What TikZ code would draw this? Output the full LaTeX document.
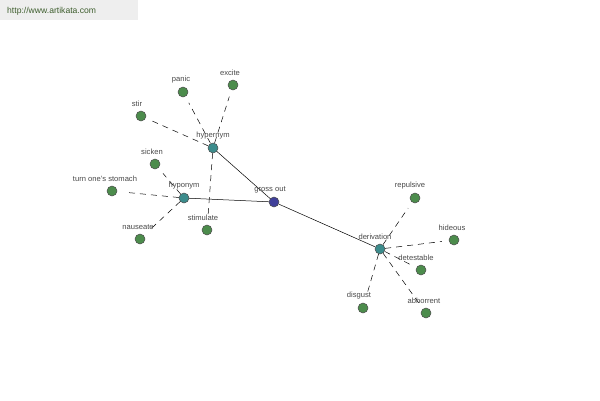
\documentclass[tikz,border=0pt]{standalone}
\usepackage{fontspec}
\setmainfont{Liberation Sans}
\definecolor{leafc}{HTML}{4C8C4C}
\definecolor{relc}{HTML}{3C8C8C}
\definecolor{rootc}{HTML}{40409A}
\definecolor{txtc}{HTML}{484848}
\definecolor{hdrbg}{HTML}{EEEEEE}
\definecolor{hdrtxt}{HTML}{3E5E2E}
\begin{document}
\begin{tikzpicture}[x=1pt,y=-1pt,
  dot/.style={circle,draw=black!70,line width=0.5pt,minimum size=10pt,inner sep=0pt},
  leaf/.style={dot,fill=leafc},
  rel/.style={dot,fill=relc},
  root/.style={dot,fill=rootc},
  lbl/.style={font=\fontsize{7.6}{9}\selectfont,text=txtc,inner sep=0pt},
  solidedge/.style={draw=black,line width=0.5pt},
  dashedge/.style={draw=black,line width=0.5pt,dash pattern=on 6pt off 5pt,shorten >=7pt}]
\useasboundingbox (0,0) rectangle (600,400);
\fill[hdrbg] (0,0) rectangle (138,20);
\node[font=\fontsize{8.6}{10}\selectfont,text=hdrtxt,anchor=west,inner sep=0pt] (hdr) at (7,11) {http://www.artikata.com};
% nodes
\node[root] (go) at (274,202) {};
\node[rel] (hyper) at (213,148) {};
\node[rel] (hypo) at (184,198) {};
\node[rel] (deriv) at (380,249) {};
\node[leaf] (panic) at (183,92) {};
\node[leaf] (excite) at (233,85) {};
\node[leaf] (stir) at (141,116) {};
\node[leaf] (sicken) at (155,164) {};
\node[leaf] (turn) at (112,191) {};
\node[leaf] (nause) at (140,239) {};
\node[leaf] (stim) at (207,230) {};
\node[leaf] (repul) at (415,198) {};
\node[leaf] (hide) at (454,240) {};
\node[leaf] (detest) at (421,270) {};
\node[leaf] (disg) at (363,308) {};
\node[leaf] (abh) at (426,313) {};
% edges
\draw[solidedge] (hyper) -- (go);
\draw[solidedge] (hypo) -- (go);
\draw[solidedge] (go) -- (deriv);
\foreach \t in {panic,excite,stir,stim} \draw[dashedge] (hyper) -- (\t);
\foreach \t in {sicken,turn,nause} \draw[dashedge] (hypo) -- (\t);
\foreach \t in {repul,hide,detest,disg,abh} \draw[dashedge] (deriv) -- (\t);
% labels
\node[lbl] (lgo) at (270,190) {gross out};
\node[lbl] (lhyper) at (213,136) {hypernym};
\node[lbl] (lhypo) at (184,186) {hyponym};
\node[lbl] (lderiv) at (375,237) {derivation};
\node[lbl] (lpanic) at (181,80) {panic};
\node[lbl] (lexcite) at (230,73) {excite};
\node[lbl] (lstir) at (137,104) {stir};
\node[lbl] (lsicken) at (152,152) {sicken};
\node[lbl] (lturn) at (105,179) {turn one's stomach};
\node[lbl] (lnause) at (138,227) {nauseate};
\node[lbl] (lstim) at (203,218) {stimulate};
\node[lbl] (lrepul) at (410,186) {repulsive};
\node[lbl] (lhide) at (452,228) {hideous};
\node[lbl] (ldetest) at (416,258) {detestable};
\node[lbl] (ldisg) at (359,296) {disgust};
\node[lbl] (labh) at (424,301) {abhorrent};
\end{tikzpicture}
\end{document}
